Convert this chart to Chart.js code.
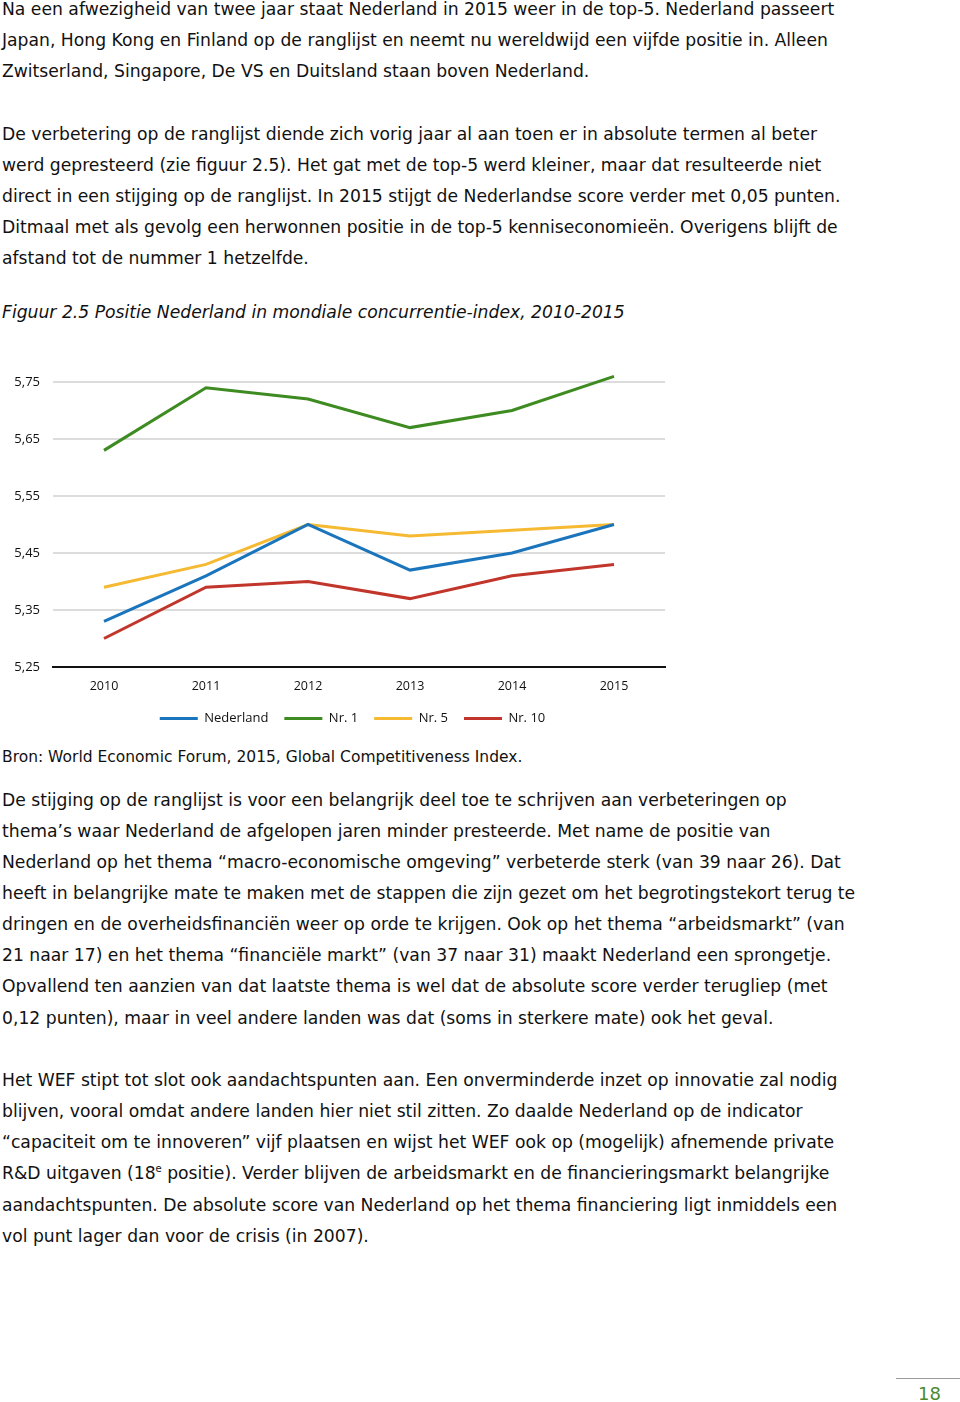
<!DOCTYPE html>
<html lang="nl">
  <head>
    <meta charset="UTF-8" />
    <title>Figuur 2.5</title>
    <script src="https://cdn.jsdelivr.net/npm/chart.js@4.4.1/dist/chart.umd.min.js"></script>
    <style>
      body { margin: 0; background: #fff; width: 960px; height: 1402px; position: relative; overflow: hidden; }
      .ln { position: absolute; left: 2px; white-space: nowrap; font-family: 'DejaVu Sans', Verdana, sans-serif; font-size: 17.2px; line-height: 20px; color: #111; }
      .cap { font-style: italic; }
      .src { font-size: 15.5px; }
      #chartBox { position: absolute; left: 0; top: 360px; width: 680px; height: 389px; }
      #pageRule { position: absolute; left: 896px; top: 1378px; width: 64px; height: 1px; background: #999; }
      #pageNo { position: absolute; left: 918px; top: 1383px; font-family: 'DejaVu Sans', sans-serif; font-size: 18px; color: #4c8a2c; }
    </style>
  </head>
  <body>
    <div id="text"></div>
    <div id="chartBox"><canvas id="chart"></canvas></div>
    <div id="pageRule"></div>
    <div id="pageNo">18</div>

    <script>
      const years = ['2010', '2011', '2012', '2013', '2014', '2015']
      const nederland = [5.33, 5.41, 5.50, 5.42, 5.45, 5.50]
      const nr1 = [5.63, 5.74, 5.72, 5.67, 5.70, 5.76]
      const nr5 = [5.39, 5.43, 5.50, 5.48, 5.49, 5.50]
      const nr10 = [5.30, 5.39, 5.40, 5.37, 5.41, 5.43]

      const COLORS = {
        blue: '#1b75bc',
        green: '#3d8b21',
        yellow: '#f5b932',
        red: '#c1352b',
      }

      // page text, one entry per printed line: [y centre, text, class]
      const lines = [
        [9, 'Na een afwezigheid van twee jaar staat Nederland in 2015 weer in de top-5. Nederland passeert'],
        [40, 'Japan, Hong Kong en Finland op de ranglijst en neemt nu wereldwijd een vijfde positie in. Alleen'],
        [71, 'Zwitserland, Singapore, De VS en Duitsland staan boven Nederland.'],
        [134, 'De verbetering op de ranglijst diende zich vorig jaar al aan toen er in absolute termen al beter'],
        [165, 'werd gepresteerd (zie figuur 2.5). Het gat met de top-5 werd kleiner, maar dat resulteerde niet'],
        [196, 'direct in een stijging op de ranglijst. In 2015 stijgt de Nederlandse score verder met 0,05 punten.'],
        [227, 'Ditmaal met als gevolg een herwonnen positie in de top-5 kenniseconomieën. Overigens blijft de'],
        [258, 'afstand tot de nummer 1 hetzelfde.'],
        [312, 'Figuur 2.5 Positie Nederland in mondiale concurrentie-index, 2010-2015', 'cap'],
        [757, 'Bron: World Economic Forum, 2015, Global Competitiveness Index.', 'src'],
        [800, 'De stijging op de ranglijst is voor een belangrijk deel toe te schrijven aan verbeteringen op'],
        [831, 'thema’s waar Nederland de afgelopen jaren minder presteerde. Met name de positie van'],
        [862, 'Nederland op het thema “macro-economische omgeving” verbeterde sterk (van 39 naar 26). Dat'],
        [893, 'heeft in belangrijke mate te maken met de stappen die zijn gezet om het begrotingstekort terug te'],
        [924, 'dringen en de overheidsfinanciën weer op orde te krijgen. Ook op het thema “arbeidsmarkt” (van'],
        [955, '21 naar 17) en het thema “financiële markt” (van 37 naar 31) maakt Nederland een sprongetje.'],
        [986, 'Opvallend ten aanzien van dat laatste thema is wel dat de absolute score verder terugliep (met'],
        [1018, '0,12 punten), maar in veel andere landen was dat (soms in sterkere mate) ook het geval.'],
        [1080, 'Het WEF stipt tot slot ook aandachtspunten aan. Een onverminderde inzet op innovatie zal nodig'],
        [1111, 'blijven, vooral omdat andere landen hier niet stil zitten. Zo daalde Nederland op de indicator'],
        [1142, '“capaciteit om te innoveren” vijf plaatsen en wijst het WEF ook op (mogelijk) afnemende private'],
        [1173, 'R&amp;D uitgaven (18<sup style="font-size:10px;vertical-align:7px;line-height:0">e</sup> positie). Verder blijven de arbeidsmarkt en de financieringsmarkt belangrijke'],
        [1205, 'aandachtspunten. De absolute score van Nederland op het thema financiering ligt inmiddels een'],
        [1236, 'vol punt lager dan voor de crisis (in 2007).'],
      ]

      const textBox = document.getElementById('text')
      lines.forEach(([y, txt, cls]) => {
        const d = document.createElement('div')
        d.className = 'ln' + (cls ? ' ' + cls : '')
        d.style.top = y - 10 + 'px'
        d.innerHTML = txt
        textBox.appendChild(d)
      })

      function series(label, data, color) {
        return {
          label,
          data,
          borderColor: color,
          backgroundColor: color,
          borderWidth: 3,
          pointRadius: 0,
          tension: 0,
          clip: false,
        }
      }

      // nudge the legend closer to the axis and a bit to the right, as in the original
      const legendShift = {
        id: 'legendShift',
        afterLayout(chart) {
          const lg = chart.legend
          lg.left += 20
          lg.right += 20
          lg.top -= 10
          lg.bottom -= 10
        },
      }

      new Chart(document.getElementById('chart').getContext('2d'), {
        type: 'line',
        data: {
          labels: years,
          datasets: [
            series('Nederland', nederland, COLORS.blue),
            series('Nr. 1', nr1, COLORS.green),
            series('Nr. 5', nr5, COLORS.yellow),
            series('Nr. 10', nr10, COLORS.red),
          ],
        },
        plugins: [legendShift],
        options: {
          responsive: true,
          maintainAspectRatio: false,
          animation: false,
          layout: { padding: { top: 22, right: 15, left: 0, bottom: 4 } },
          plugins: {
            tooltip: { enabled: false },
            legend: {
              position: 'bottom',
              labels: {
                boxWidth: 38,
                boxHeight: 3,
                padding: 16,
                color: '#111',
                font: { family: 'Open Sans', size: 13 },
                generateLabels: (chart) =>
                  Chart.defaults.plugins.legend.labels.generateLabels(chart).map((l) => ({ ...l, lineWidth: 0 })),
              },
            },
          },
          scales: {
            x: {
              offset: true,
              grid: { display: false, drawTicks: false },
              border: { display: true, color: '#111', width: 2 },
              ticks: { color: '#111', padding: 12, font: { family: 'Open Sans', size: 12.5 } },
            },
            y: {
              min: 5.25,
              max: 5.75,
              afterFit: (scale) => { scale.width = 53 },
              grid: { color: '#dcdcdc', lineWidth: 2, drawTicks: false },
              border: { display: false },
              ticks: {
                stepSize: 0.1,
                padding: 13,
                color: '#111',
                font: { family: 'Open Sans', size: 13 },
                callback: (v) => v.toFixed(2).replace('.', ','),
              },
            },
          },
        },
      })
    </script>
  </body>
</html>
